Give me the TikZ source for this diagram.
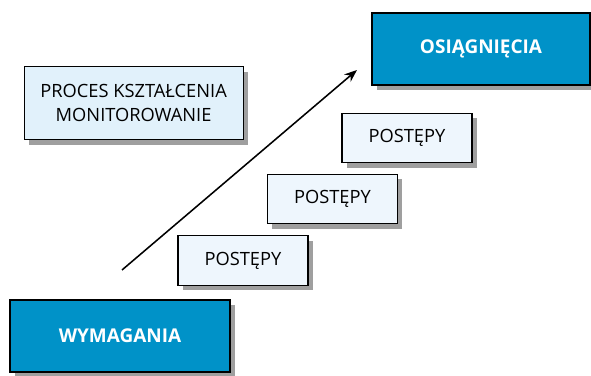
\documentclass[tikz,border=0pt]{standalone}
\usepackage{fontspec}
\setmainfont{Open Sans}
\usetikzlibrary{shadows,arrows.meta}

\definecolor{mainblue}{HTML}{0092C8}
\definecolor{paleblue}{HTML}{E1F1FB}
\definecolor{stepblue}{HTML}{EEF6FD}

\tikzset{
  boxshadow/.style={drop shadow={shadow xshift=0.12cm, shadow yshift=-0.12cm, fill=gray!75, opacity=1}},
  goalbox/.style={draw=black, line width=0.8pt, fill=mainblue, text=white, boxshadow,
    minimum width=5.45cm, minimum height=1.8cm, font=\fontsize{13.5}{16}\selectfont\bfseries},
  infobox/.style={draw=black, line width=0.8pt, fill=paleblue, boxshadow, align=center,
    minimum width=5.475cm, minimum height=1.825cm, font=\fontsize{13}{17}\selectfont},
  stepbox/.style={draw=black, line width=0.8pt, fill=stepblue, boxshadow,
    minimum width=3.25cm, minimum height=1.24cm, font=\fontsize{13}{16}\selectfont}
}

\begin{document}
\begin{tikzpicture}
  \useasboundingbox (0,0) rectangle (14.775,9.375);

  % requirements and outcomes
  \node[goalbox, minimum width=5.5cm] (wym) at (3.0,0.975) {WYMAGANIA};
  \node[goalbox] (osi) at (12.025,8.15) {OSIĄGNIĘCIA};

  % teaching process
  \node[infobox] (proc) at (3.34,6.79) {PROCES KSZTAŁCENIA\\MONITOROWANIE};

  % progress steps
  \node[stepbox] (step1) at (6.075,2.86) {POSTĘPY};
  \node[stepbox] (step2) at (8.31,4.4) {POSTĘPY};
  \node[stepbox] (step3) at (10.175,5.925) {POSTĘPY};

  % rising arrow
  \coordinate (start) at (3.05,2.625);
  \coordinate (end) at (8.925,7.625);
  \draw[line width=1.1pt, -{Stealth[length=9pt,width=7pt]}] (start) -- (end);
\end{tikzpicture}
\end{document}
